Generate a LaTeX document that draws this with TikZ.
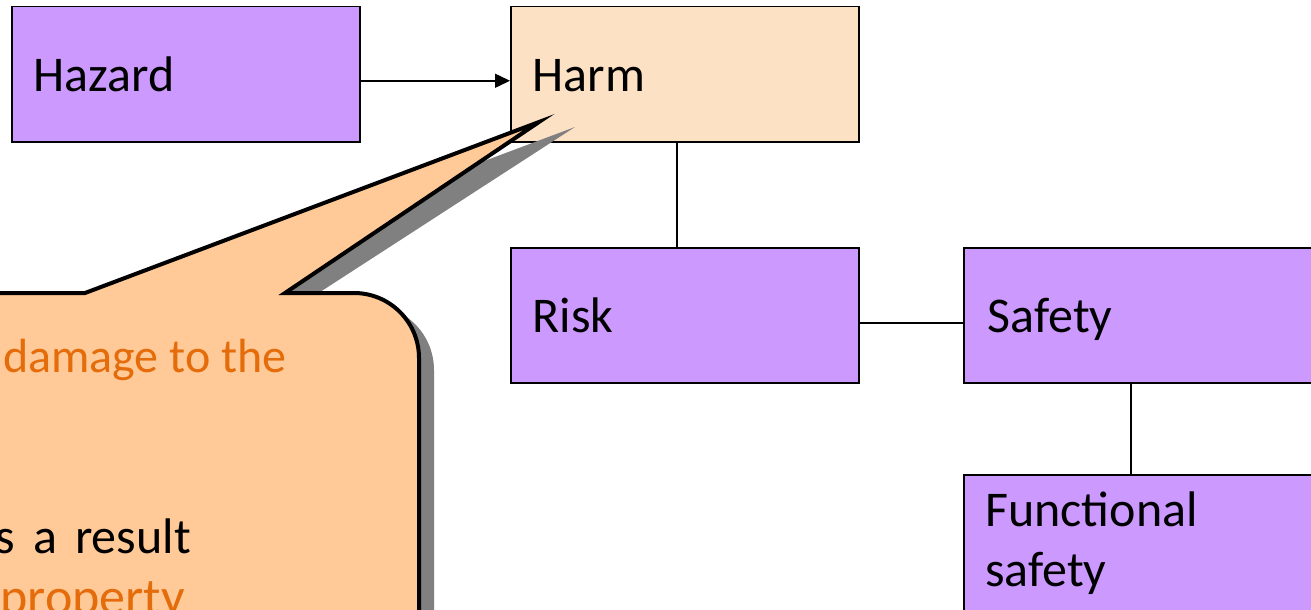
\documentclass[tikz,border=0pt]{standalone}
\usepackage{fontspec}
\setmainfont{Carlito}
\usetikzlibrary{arrows.meta}
\definecolor{boxpurple}{HTML}{CC99FF}
\definecolor{harmpeach}{HTML}{FDE1C5}
\definecolor{calloutfill}{HTML}{FFCA98}
\definecolor{calloutorange}{HTML}{E46C0A}
\definecolor{shadowgray}{HTML}{808080}
\begin{document}
\begin{tikzpicture}[x=1pt,y=-1pt,
  box/.style={draw=black, line width=1.5pt, fill=boxpurple, anchor=north west,
    minimum width=348pt, minimum height=135pt, text width=304pt, inner xsep=22pt,
    align=left, font=\fontsize{50}{60}\selectfont, text height=34pt, text depth=0pt},
  conn/.style={draw=black, line width=1.5pt},
  ctext/.style={font=\fontsize{48}{58}\selectfont, inner sep=0pt}
]
\useasboundingbox (0,0) rectangle (1311,610);
\clip (0,0) rectangle (1311,610);

% boxes
\node[box] (hazard) at (11,6) {Hazard};
\node[box, fill=harmpeach] (harm) at (510,6) {Harm};
\node[box] (risk) at (510,247) {Risk};
\node[box, minimum width=352pt] (safety) at (963,247) {Safety};
\node[box, minimum width=352pt, minimum height=150pt] (fsafety) at (963,474) {};
\node[inner sep=0pt, anchor=base west, font=\fontsize{50}{60}\selectfont, align=left] (fsafetytext) at (985,586) {Functional\\safety};

% connectors
\draw[conn, -{Triangle[length=15pt,width=14pt]}] ([yshift=-6.5]hazard.east) -- ([yshift=-6.5]harm.west);
\draw[conn] ([xshift=-8]harm.south) -- ([xshift=-8]risk.north);
\draw[conn] ([yshift=-7.5]risk.east) -- ([yshift=-7.5]safety.west);
\draw[conn] ([xshift=-9]safety.south) -- ([xshift=-9]fsafety.north);

% callout shadow
\fill[shadowgray] (-60,305) -- (100,305) -- (575,127) -- (300,305) -- (369,305)
  arc[start angle=-90, end angle=0, radius=65] -- (434,720) -- (-60,720) -- cycle;
% callout
\filldraw[fill=calloutfill, draw=black, line width=4pt, line join=miter]
  (-60,293) -- (85,293) -- (539,122) -- (285,293) -- (354,293)
  arc[start angle=-90, end angle=0, radius=65] -- (419,720) -- (-60,720) -- cycle;

% callout text (visible fragments)
\node[ctext, text=calloutorange, anchor=base west] (t1) at (3,372) {damage to the};
\node[ctext, text=black, anchor=base east] (t2) at (4,471) {,};
\node[ctext, font=\fontsize{50}{60}\selectfont, text=black, anchor=base east] (t3) at (191,553) {s\hspace{18pt}a\hspace{18pt}result};
\node[ctext, font=\fontsize{52}{62}\selectfont, text=calloutorange, anchor=base east] (t4) at (185,614) {property};
\end{tikzpicture}
\end{document}
